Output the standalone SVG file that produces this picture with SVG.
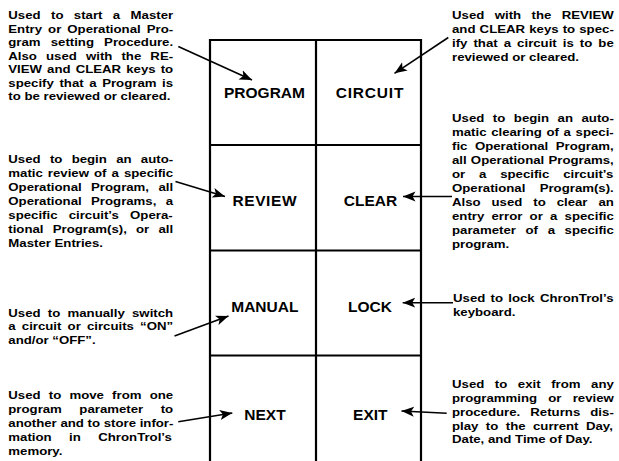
<svg xmlns="http://www.w3.org/2000/svg" width="619" height="461" viewBox="0 0 619 461">
<style>
.d{font-family:"Liberation Sans",Arial,sans-serif;font-weight:bold;font-size:11.5px;fill:#000}
.k{font-family:"Liberation Sans",Arial,sans-serif;font-weight:bold;font-size:15.5px;fill:#000;text-anchor:middle}
.g{stroke:#000;stroke-width:2.2;fill:none}
.a{stroke:#000;stroke-width:1.6;fill:none;marker-end:url(#ah)}
</style>
<defs>
<marker id="ah" markerUnits="userSpaceOnUse" markerWidth="13" markerHeight="11" viewBox="0 0 13 11" refX="12.5" refY="5.5" orient="auto">
<path d="M0,0.5 L12.5,5.5 L0,10.5 L3,5.5 Z" fill="#000"/>
</marker>
</defs>
<rect width="619" height="461" fill="#fff"/>
<g id="grid" class="g">
<line x1="210" y1="40" x2="421" y2="40"/>
<line x1="210" y1="145" x2="421" y2="145"/>
<line x1="210" y1="250.5" x2="421" y2="250.5"/>
<line x1="210" y1="355.5" x2="421" y2="355.5"/>
<line x1="210" y1="39" x2="210" y2="461"/>
<line x1="316" y1="39" x2="316" y2="461"/>
<line x1="421" y1="39" x2="421" y2="461"/>
</g>
<g id="key-program"><text class="k" x="264.5" y="98.3">PROGRAM</text></g>
<g id="key-circuit"><text class="k" x="370" y="98.3" letter-spacing="0.8">CIRCUIT</text></g>
<g id="key-review"><text class="k" x="264.8" y="206" letter-spacing="0.6">REVIEW</text></g>
<g id="key-clear"><text class="k" x="370.5" y="206">CLEAR</text></g>
<g id="key-manual"><text class="k" x="264.8" y="312.3">MANUAL</text></g>
<g id="key-lock"><text class="k" x="370" y="312.3">LOCK</text></g>
<g id="key-next"><text class="k" x="265" y="420">NEXT</text></g>
<g id="key-exit"><text class="k" x="370.3" y="420">EXIT</text></g>

<g id="desc-program" class="d" transform="translate(8.3,0) scale(1.15,1)">
<text x="0" y="19.3" word-spacing="5.84">Used to start a Master</text>
<text x="0" y="32.8" word-spacing="2.04">Entry or Operational Pro-</text>
<text x="0" y="46.3" word-spacing="5.61">gram setting Procedure.</text>
<text x="0" y="59.8" word-spacing="4.72">Also used with the RE-</text>
<text x="0" y="73.3" word-spacing="1.21">VIEW and CLEAR keys to</text>
<text x="0" y="86.8" word-spacing="1.68">specify that a Program is</text>
<text x="0" y="100.3">to be reviewed or cleared.</text>
</g>
<g id="desc-review" class="d" transform="translate(8.3,0) scale(1.15,1)">
<text x="0" y="162.7" word-spacing="4.89">Used to begin an auto-</text>
<text x="0" y="176.7" word-spacing="1.2">matic review of a specific</text>
<text x="0" y="190.7" word-spacing="4.96">Operational Program, all</text>
<text x="0" y="204.7" word-spacing="4.96">Operational Programs, a</text>
<text x="0" y="218.7" word-spacing="6.56">specific circuit’s Opera-</text>
<text x="0" y="232.7" word-spacing="4.8">tional Program(s), or all</text>
<text x="0" y="246.7">Master Entries.</text>
</g>
<g id="desc-manual" class="d" transform="translate(8.3,0) scale(1.15,1)">
<text x="0" y="316.6" word-spacing="3.1">Used to manually switch</text>
<text x="0" y="330.5" word-spacing="2.16">a circuit or circuits “ON”</text>
<text x="0" y="344.3">and/or “OFF”.</text>
</g>
<g id="desc-next" class="d" transform="translate(8.3,0) scale(1.15,1)">
<text x="0" y="399.3" word-spacing="3.93">Used to move from one</text>
<text x="0" y="413.1" word-spacing="12">program parameter to</text>
<text x="0" y="426.9" word-spacing="0">another and to store infor-</text>
<text x="0" y="440.7" word-spacing="12">mation in ChronTrol’s</text>
<text x="0" y="454.8">memory.</text>
</g>
<g id="desc-circuit" class="d" transform="translate(452,0) scale(1.15,1)">
<text x="0" y="19.3" word-spacing="5.85">Used with the REVIEW</text>
<text x="0" y="33.2" word-spacing="0.39">and CLEAR keys to spec-</text>
<text x="0" y="47.1" word-spacing="2.07">ify that a circuit is to be</text>
<text x="0" y="61">reviewed or cleared.</text>
</g>
<g id="desc-clear" class="d" transform="translate(452,0) scale(1.15,1)">
<text x="0" y="121.7" word-spacing="4.23">Used to begin an auto-</text>
<text x="0" y="135.8" word-spacing="0.86">matic clearing of a speci-</text>
<text x="0" y="149.8" word-spacing="3.33">fic Operational Program,</text>
<text x="0" y="163.9" word-spacing="0.45">all Operational Programs,</text>
<text x="0" y="178" word-spacing="8.82">or a specific circuit’s</text>
<text x="0" y="192.1" word-spacing="9.23">Operational Program(s).</text>
<text x="0" y="206.1" word-spacing="6.3">Also used to clear an</text>
<text x="0" y="220.2" word-spacing="3.1">entry error or a specific</text>
<text x="0" y="234.3" word-spacing="5.2">parameter of a specific</text>
<text x="0" y="248.3">program.</text>
</g>
<g id="desc-lock" class="d" transform="translate(453,0) scale(1.15,1)">
<text x="0" y="302" word-spacing="1.37">Used to lock ChronTrol’s</text>
<text x="0" y="316">keyboard.</text>
</g>
<g id="desc-exit" class="d" transform="translate(452,0) scale(1.15,1)">
<text x="0" y="388.3" word-spacing="5.98">Used to exit from any</text>
<text x="0" y="402.1" word-spacing="6.53">programming or review</text>
<text x="0" y="415.9" word-spacing="5.57">procedure. Returns dis-</text>
<text x="0" y="429.7" word-spacing="3.27">play to the current Day,</text>
<text x="0" y="443.5">Date, and Time of Day.</text>
</g>

<g id="connectors">
<line class="a" x1="178.3" y1="46.5" x2="252" y2="80"/>
<line class="a" x1="448.3" y1="37.5" x2="394.5" y2="73.3"/>
<line class="a" x1="175.5" y1="181.5" x2="225" y2="196.5"/>
<line class="a" x1="452" y1="196.5" x2="403" y2="196.5"/>
<line class="a" x1="174.5" y1="336" x2="228.5" y2="316"/>
<line class="a" x1="453" y1="302.7" x2="402.7" y2="302.7"/>
<line class="a" x1="178.3" y1="421.7" x2="232.3" y2="413"/>
<line class="a" x1="446.7" y1="413.3" x2="401.5" y2="411"/>
</g>
</svg>
